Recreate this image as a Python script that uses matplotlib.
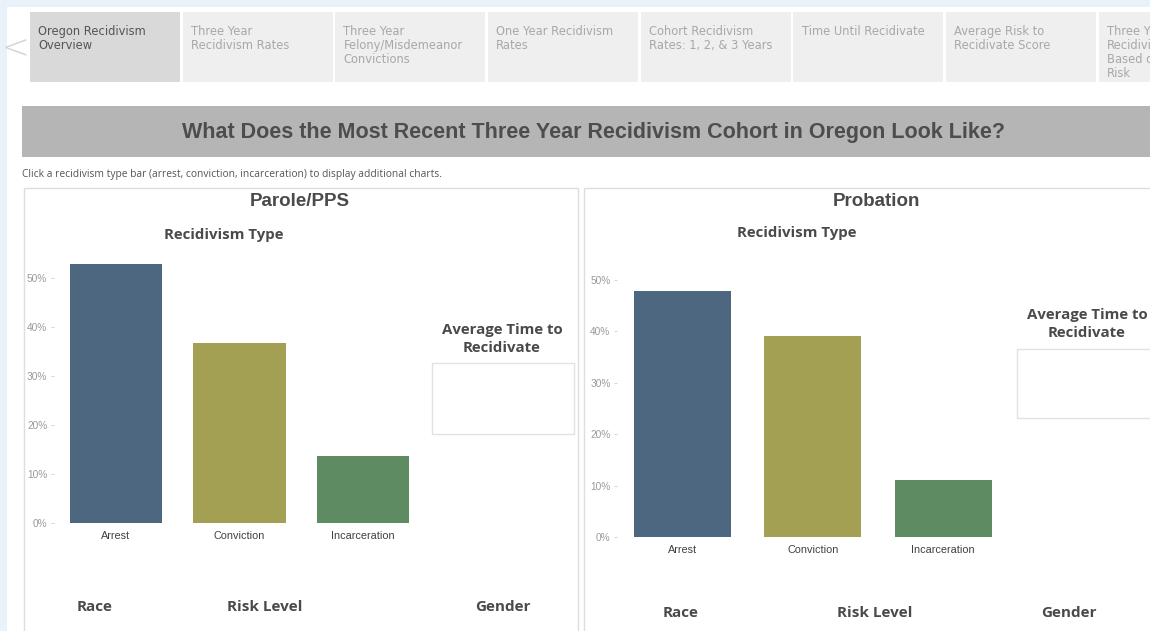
import matplotlib
matplotlib.use("Agg")
import matplotlib.pyplot as plt
from matplotlib.patches import Rectangle
from matplotlib.ticker import FuncFormatter

# ---------------- data ----------------
categories = ["Arrest", "Conviction", "Incarceration"]
parole_rates = [52.9, 36.7, 13.7]      # percent
probation_rates = [47.8, 39.2, 11.1]   # percent
bar_colors = ["#4e6781", "#a39f53", "#5f8b63"]
yticks = [0, 10, 20, 30, 40, 50]

tab_labels = [
    "Oregon Recidivism\nOverview",
    "Three Year\nRecidivism Rates",
    "Three Year\nFelony/Misdemeanor\nConvictions",
    "One Year Recidivism\nRates",
    "Cohort Recidivism\nRates: 1, 2, & 3 Years",
    "Time Until Recidivate",
    "Average Risk to\nRecidivate Score",
    "Three Year\nRecidivism\nBased on\nRisk",
]
main_title = "What Does the Most Recent Three Year Recidivism Cohort in Oregon Look Like?"
subtitle = "Click a recidivism type bar (arrest, conviction, incarceration) to display additional charts."
panel_titles = ["Parole/PPS", "Probation"]
bottom_labels = ["Race", "Risk Level", "Gender"]

W, H = 1150, 631
fig = plt.figure(figsize=(W / 100, H / 100), dpi=100)
fig.patch.set_facecolor("white")

def fx(x):
    return x / W

def fy(y):
    return 1 - y / H

def rect(x0, y0, x1, y1, **kw):
    r = Rectangle((fx(x0), fy(y1)), fx(x1) - fx(x0), fy(y0) - fy(y1),
                  transform=fig.transFigure, **kw)
    fig.patches.append(r)
    return r

def text(x, y, s, **kw):
    return fig.text(fx(x), fy(y), s, **kw)

# page background strips
rect(0, 0, W, 7, facecolor="#e9f1fa", edgecolor="none", zorder=0)
rect(0, 0, 7, H, facecolor="#e9f1fa", edgecolor="none", zorder=0)

# left arrow
text(15, 49, "<", fontsize=24, color="#d3d3d3", ha="center", va="center",
     family="DejaVu Sans", fontweight="light")

# tabs
tab_x0 = 30
tab_w = 150
tab_step = 152.7
for i, lab in enumerate(tab_labels):
    x0 = tab_x0 + i * tab_step
    r = rect(x0, 12, x0 + tab_w, 82,
             facecolor="#d9d9d9" if i == 0 else "#efefef", edgecolor="none", zorder=1)
    t = text(x0 + 8, 25, lab, fontsize=8.3, ha="left", va="top",
             color="#555555" if i == 0 else "#a8a8a8", family="DejaVu Sans",
             linespacing=1.1, zorder=2)
    t.set_clip_path(r)

# title band
rect(22, 106, W, 157, facecolor="#b5b5b5", edgecolor="none", zorder=1)
text(593, 132, main_title, fontsize=15.5, fontweight="bold", color="#4d4d4d",
     ha="center", va="center", family="Liberation Sans", zorder=2)

text(22, 175, subtitle, fontsize=7.4, color="#555555", ha="left", va="center",
     family="Open Sans")

# panels
rect(24, 188, 578, H + 5, facecolor="none", edgecolor="#dedede", linewidth=1.0, zorder=1)
rect(584, 188, W + 5, H + 5, facecolor="none", edgecolor="#dedede", linewidth=1.0, zorder=1)

panel_specs = [
    dict(vals=parole_rates, title_x=300, sub_x=224, sub_y=235, L=54.25, R=424.75,
         y0=523, y50=278, avg_x=502, avg_y=339, box=(432, 363, 574, 434),
         bot_x=[95, 265, 503], bot_y=607),
    dict(vals=probation_rates, title_x=876, sub_x=797, sub_y=233, L=617.4, R=1008.2,
         y0=537, y50=280, avg_x=1087, avg_y=324, box=(1017, 349, W + 5, 418),
         bot_x=[681, 875, 1069], bot_y=613),
]

for spec, ptitle in zip(panel_specs, panel_titles):
    text(spec["title_x"], 202, ptitle, fontsize=13.5, fontweight="bold", color="#4a4a4a",
         ha="center", va="center", family="Liberation Sans")
    text(spec["sub_x"], spec["sub_y"], "Recidivism Type", fontsize=10.8, fontweight="bold",
         color="#4a4a4a", ha="center", va="center", family="Open Sans")
    text(spec["avg_x"], spec["avg_y"], "Average Time to\nRecidivate", fontsize=10.8,
         fontweight="bold", color="#4a4a4a", ha="center", va="center",
         family="Open Sans", linespacing=1.3)
    bx0, by0, bx1, by1 = spec["box"]
    rect(bx0, by0, bx1, by1, facecolor="white", edgecolor="#e2e2e2", linewidth=1.0, zorder=1)
    for bl, bxp in zip(bottom_labels, spec["bot_x"]):
        text(bxp, spec["bot_y"], bl, fontsize=11, fontweight="bold", color="#4a4a4a",
             ha="center", va="center", family="Open Sans")

    # bar axes
    ymax = 55
    ppp = (spec["y0"] - spec["y50"]) / 50.0
    top = spec["y0"] - ymax * ppp
    ax = fig.add_axes([fx(spec["L"]), fy(spec["y0"]), fx(spec["R"]) - fx(spec["L"]),
                       fy(top) - fy(spec["y0"])])
    ax.set_facecolor("none")
    xs = list(range(len(categories)))
    ax.bar(xs, spec["vals"], width=0.745, color=bar_colors, edgecolor="none")
    ax.set_xlim(-0.5, len(categories) - 0.5)
    ax.set_ylim(0, ymax)
    ax.set_yticks(yticks)
    ax.yaxis.set_major_formatter(FuncFormatter(lambda v, p: f"{v:.0f}%"))
    ax.set_xticks(xs)
    ax.set_xticklabels(categories)
    for s in ax.spines.values():
        s.set_visible(False)
    ax.tick_params(axis="y", length=2.5, width=0.6, color="#cfcfcf", labelsize=7.3,
                   labelcolor="#9a9a9a", pad=2.5)
    ax.tick_params(axis="x", length=0, labelsize=7.8, labelcolor="#404040", pad=6)
    for lab in ax.get_xticklabels() + ax.get_yticklabels():
        lab.set_family("Liberation Sans")
    ax.axhline(0, color="#eeeeee", linewidth=0.6, linestyle=(0, (1, 2)), zorder=0)

fig.savefig("out.png", dpi=100)
